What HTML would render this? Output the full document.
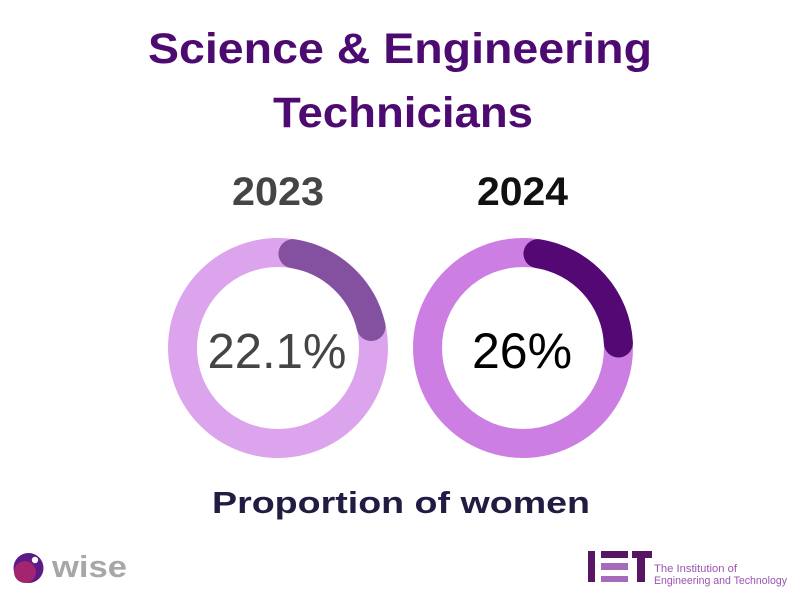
<!DOCTYPE html>
<html>
<head>
<meta charset="utf-8">
<style>
  html, body { margin: 0; padding: 0; background: #ffffff; }
  body { width: 801px; height: 601px; overflow: hidden; }
  svg { display: block; }
</style>
</head>
<body>
<svg width="801" height="601" viewBox="0 0 801 601" xmlns="http://www.w3.org/2000/svg">
  <rect width="801" height="601" fill="#ffffff"/>

  <!-- Title -->
  <text x="148" y="63" font-family="Liberation Sans, sans-serif" font-weight="bold" font-size="43" textLength="504" lengthAdjust="spacingAndGlyphs" fill="#4d0a70">Science &amp; Engineering</text>
  <text x="273" y="127" font-family="Liberation Sans, sans-serif" font-weight="bold" font-size="43" textLength="260" lengthAdjust="spacingAndGlyphs" fill="#4d0a70">Technicians</text>

  <!-- Years -->
  <text x="232" y="205" font-family="Liberation Sans, sans-serif" font-weight="bold" font-size="40" textLength="92" lengthAdjust="spacingAndGlyphs" fill="#454545">2023</text>
  <text x="477" y="205" font-family="Liberation Sans, sans-serif" font-weight="bold" font-size="40" textLength="91" lengthAdjust="spacingAndGlyphs" fill="#111111">2024</text>

  <!-- Left ring -->
  <circle cx="278" cy="348" r="95.5" fill="none" stroke="#dca4ed" stroke-width="29"/>
  <path d="M292.94 253.67 A95.5 95.5 0 0 1 371.05 326.51" fill="none" stroke="#8450a0" stroke-width="29" stroke-linecap="round"/>
  <text x="277" y="368" text-anchor="middle" font-family="Liberation Sans, sans-serif" font-size="49" fill="#454545">22.1%</text>

  <!-- Right ring -->
  <circle cx="523" cy="348" r="95.5" fill="none" stroke="#cc7ee3" stroke-width="29"/>
  <path d="M537.94 253.67 A95.5 95.5 0 0 1 618.37 343.0" fill="none" stroke="#540873" stroke-width="29" stroke-linecap="round"/>
  <text x="522" y="368" text-anchor="middle" font-family="Liberation Sans, sans-serif" font-size="50" fill="#000000">26%</text>

  <!-- Subtitle -->
  <text x="212" y="513" font-family="Liberation Sans, sans-serif" font-weight="bold" font-size="31" textLength="378" lengthAdjust="spacingAndGlyphs" fill="#221c42">Proportion of women</text>

  <!-- wise logo -->
  <circle cx="28.5" cy="568" r="15" fill="#5b1a86"/>
  <circle cx="25" cy="572" r="11" fill="#a3246f"/>
  <circle cx="35" cy="560" r="3.2" fill="#ffffff"/>
  <circle cx="40.5" cy="555" r="1.6" fill="#ffffff"/>
  <text x="52" y="577" font-family="Liberation Sans, sans-serif" font-weight="bold" font-size="31" textLength="75" lengthAdjust="spacingAndGlyphs" fill="#a7a7aa">wise</text>

  <!-- IET logo -->
  <rect x="588" y="551" width="7" height="31" fill="#571563"/>
  <rect x="601" y="551" width="27" height="7" fill="#571563"/>
  <rect x="601" y="563" width="27" height="7" fill="#a56ab8"/>
  <rect x="601" y="576" width="27" height="6" fill="#a56ab8"/>
  <rect x="632" y="551" width="20" height="7" fill="#571563"/>
  <rect x="637" y="551" width="8" height="31" fill="#571563"/>
  <text x="654" y="572" font-family="Liberation Sans, sans-serif" font-size="11" textLength="83" lengthAdjust="spacingAndGlyphs" fill="#9a55b0">The Institution of</text>
  <text x="654" y="584" font-family="Liberation Sans, sans-serif" font-size="11" textLength="133" lengthAdjust="spacingAndGlyphs" fill="#9a55b0">Engineering and Technology</text>
</svg>
</body>
</html>
